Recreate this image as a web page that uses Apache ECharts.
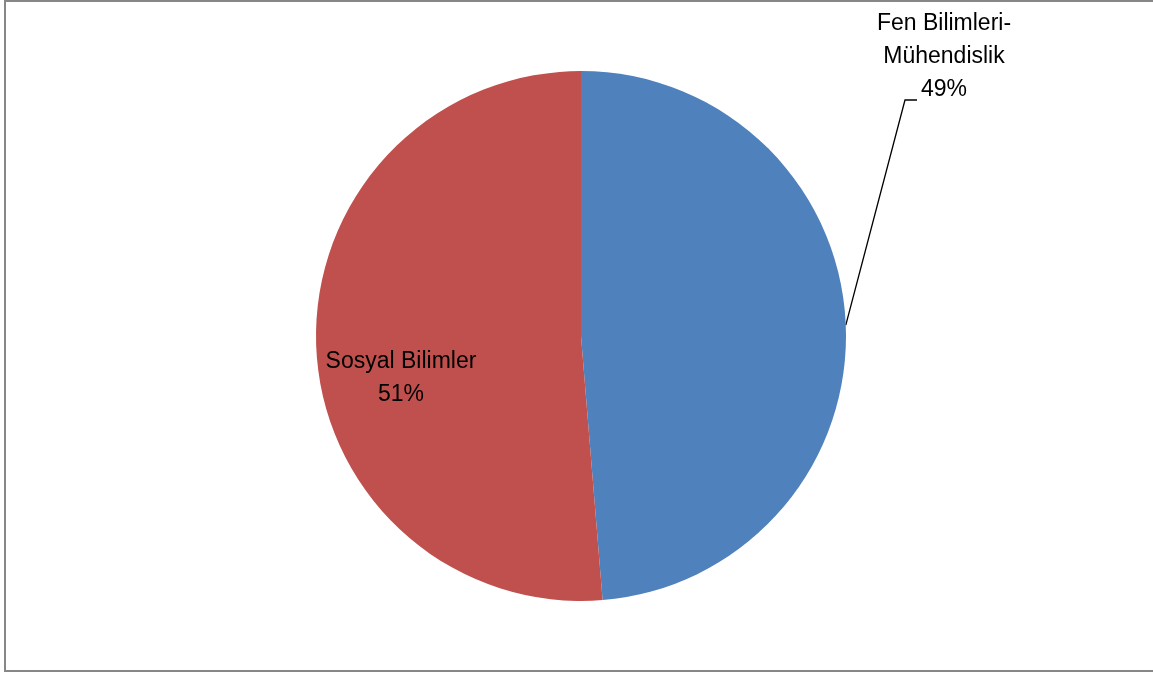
<!DOCTYPE html>
<html>
<head>
<meta charset="utf-8">
<script src="https://cdn.jsdelivr.net/npm/echarts@6/dist/echarts.min.js"></script>
<style>
html,body{margin:0;padding:0;background:#fff;}
#chart{width:1153px;height:675px;}
</style>
</head>
<body>
<div id="chart"></div>
<script>
var categories = ['Fen Bilimleri-\nMühendislik', 'Sosyal Bilimler'];
var values = [48.7, 51.3];
var colors = ['#4F81BD', '#C0504D'];

var chart = echarts.init(document.getElementById('chart'));
var data = categories.map(function (c, i) {
  return {
    name: c,
    value: values[i],
    itemStyle: { color: colors[i] },
    labelLine: { show: i === 0 }
  };
});

chart.setOption({
  animation: false,
  graphic: [{
    type: 'rect',
    shape: { x: 5, y: 1, width: 1170, height: 670 },
    style: { fill: 'none', stroke: '#878787', lineWidth: 2 },
    silent: true
  }],
  series: [{
    type: 'pie',
    center: [581, 336],
    radius: 265,
    startAngle: 90,
    clockwise: true,
    avoidLabelOverlap: false,
    percentPrecision: 0,
    data: data,
    label: {
      show: true,
      position: 'outside',
      formatter: '{b}\n{d}%',
      color: '#000',
      fontFamily: 'Liberation Sans, Arial, sans-serif',
      fontSize: 23,
      lineHeight: 33,
      align: 'center'
    },
    labelLine: {
      show: true,
      lineStyle: { color: '#000', width: 1.3 }
    },
    labelLayout: function (p) {
      if (p.dataIndex === 0) {
        var start = p.labelLinePoints ? p.labelLinePoints[0] : [846, 325];
        return {
          x: 944, y: 57, align: 'center', verticalAlign: 'middle',
          labelLinePoints: [start, [905, 100], [917, 100]]
        };
      }
      return { x: 401, y: 378, align: 'center', verticalAlign: 'middle' };
    }
  }]
});
</script>
</body>
</html>
